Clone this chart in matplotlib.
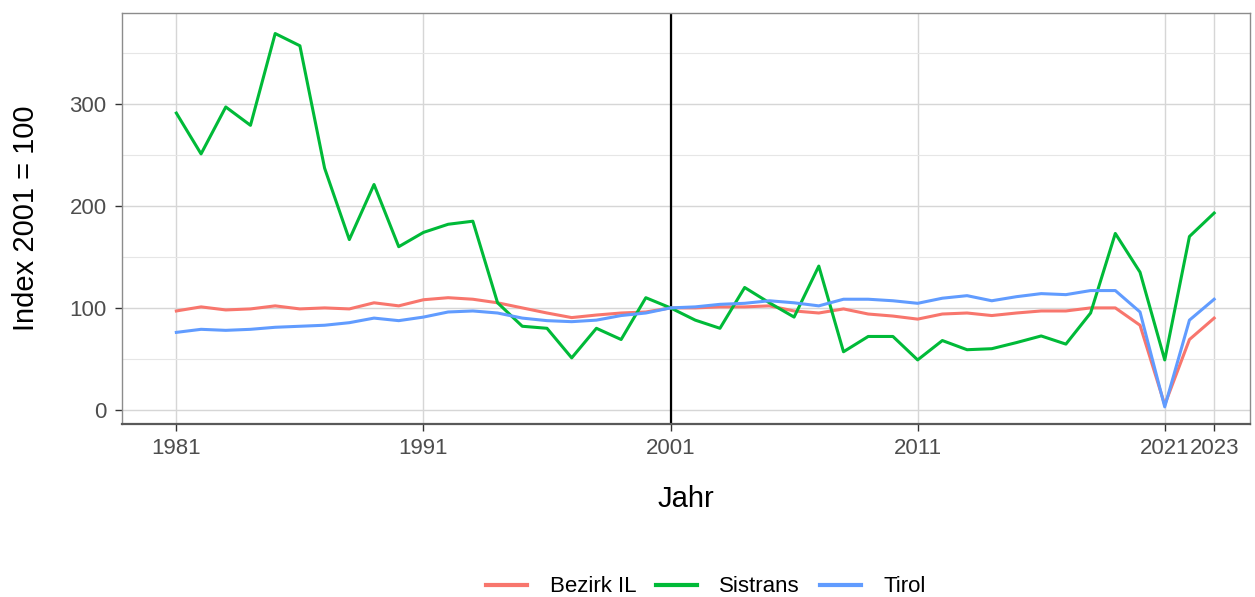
import matplotlib
matplotlib.use("Agg")
import matplotlib.pyplot as plt

plt.rcParams['font.family'] = ['Liberation Sans', 'DejaVu Sans']

jahre = list(range(1981, 2024))

# Index 2001 = 100
bezirk_il = [97, 101, 98, 99, 102, 99, 100, 99, 105, 102,
             108, 110, 108.5, 105, 100, 95, 90.5, 93, 95, 96,
             100, 100, 101, 101, 102, 97, 95, 99, 94, 92,
             89, 94, 95, 92.5, 95, 97, 97, 100, 100, 83,
             5, 69, 90]
sistrans = [291, 251, 297, 279, 369, 357, 237, 167, 221, 160,
            174, 182, 185, 105, 82, 80, 51, 80, 69, 110,
            100, 88, 80, 120, 105, 91, 141, 57, 72, 72,
            49, 68, 59, 60, 66, 72.5, 64.5, 95, 173, 135,
            49, 170, 193]
tirol = [76, 79, 78, 79, 81, 82, 83, 85.5, 90, 87.5,
         91, 96, 97, 95, 90, 87.5, 86.5, 88, 92.5, 95,
         100, 101, 103.5, 104.5, 107, 105, 102, 108.5, 108.5, 107,
         104.5, 109.5, 112, 107, 111, 114, 113, 117, 117, 96,
         3, 88, 108.5]

x_ticks = [1981, 1991, 2001, 2011, 2021, 2023]

fig = plt.figure(figsize=(12.55, 5.97), dpi=100)
ax = fig.add_axes([0.0972, 0.290, 0.8988, 0.688])

ax.set_yticks([50, 150, 250, 350], minor=True)
ax.set_yticks([0, 100, 200, 300])
ax.set_xticks(x_ticks)
ax.grid(True, which='major', color='#D6D6D6', lw=1.0)
ax.grid(True, which='minor', axis='y', color='#E6E6E6', lw=0.8)
ax.set_axisbelow(True)

ax.axvline(2001, color='black', lw=1.6, zorder=2)

ax.plot(jahre, bezirk_il, color='#F8766D', lw=2.2, label='Bezirk IL', zorder=3)
ax.plot(jahre, sistrans, color='#00BA38', lw=2.2, label='Sistrans', zorder=3)
ax.plot(jahre, tirol, color='#619CFF', lw=2.2, label='Tirol', zorder=3)

ax.set_xlim(1978.8, 2024.45)
ax.set_ylim(-13.7, 389)

for s in ['left', 'top', 'right']:
    ax.spines[s].set_color('#8C8C8C')
    ax.spines[s].set_linewidth(1.0)
ax.spines['bottom'].set_color('#595959')
ax.spines['bottom'].set_linewidth(1.6)

ax.tick_params(axis='both', which='major', labelsize=16, labelcolor='#4D4D4D',
               color='#333333', length=5, width=1)
ax.tick_params(axis='x', pad=5)
ax.tick_params(axis='y', pad=6)
ax.tick_params(which='minor', length=0)

ax.set_xlabel('Jahr', fontsize=21)
ax.set_ylabel('Index 2001 = 100', fontsize=21)
ax.xaxis.set_label_coords(0.5, -0.15)
ax.yaxis.set_label_coords(-0.073, 0.5)

fig.legend(loc='center', bbox_to_anchor=(0.5625, 0.017), ncol=3, frameon=False,
           fontsize=16, handlelength=1.85, handletextpad=1.0, columnspacing=0.9)
for line in fig.legends[0].get_lines():
    line.set_linewidth(3)

fig.savefig('out.png', dpi=100)
